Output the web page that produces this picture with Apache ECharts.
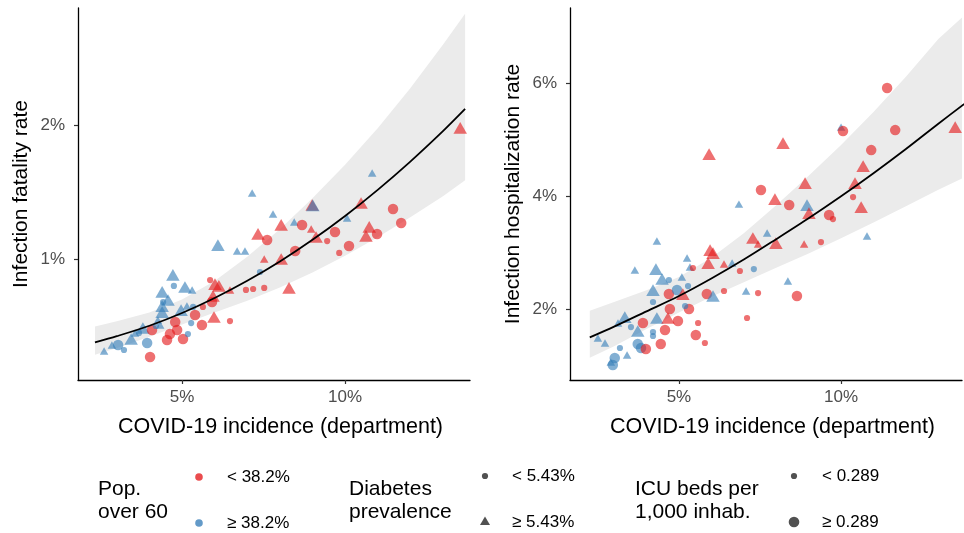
<!DOCTYPE html>
<html><head><meta charset="utf-8">
<script src="https://cdn.jsdelivr.net/npm/echarts@6/dist/echarts.min.js"></script>
<style>html,body{margin:0;padding:0;background:#fff}#c{width:964px;height:533px}</style>
</head><body><div id="c"></div>
<script>
// ---------- tick labels ----------
const xTicks = [5, 10];
const ifrTicks = [1, 2];
const ihrTicks = [2, 4, 6];

// ---------- left panel: infection fatality rate ----------
// pop: 0 = "< 38.2%", 1 = ">= 38.2%" ; diab: 0 = "< 5.43%", 1 = ">= 5.43%" ; icu: 0 = "< 0.289", 1 = ">= 0.289"
const ifrX = [2.61,2.85,3.04,3.22,3.44,3.56,3.68,3.80,3.93,4.02,4.08,4.20,4.26,4.33,4.39,4.39,4.42,4.57,4.39,4.54,4.63,4.79,4.85,5.03,5.18,5.28,5.40,4.72,4.75,5.09,5.31,4.97,5.15,5.34,5.64,5.61,5.92,5.86,6.01,6.13,5.95,6.47,5.98,6.47,6.10,6.69,6.93,7.15,7.79,7.33,7.61,8.04,8.44,8.68,8.99,9.01,8.96,9.11,9.45,9.69,9.82,7.52,8.04,8.47,7.39,8.28,6.96,7.18,7.52,13.53,10.83,10.49,10.06,11.47,11.72,10.74,10.64,10.98,10.12];
const ifrY = [0.313,0.358,0.358,0.321,0.403,0.448,0.448,0.485,0.373,0.269,0.470,0.500,0.545,0.507,0.604,0.649,0.679,0.694,0.754,0.396,0.440,0.530,0.470,0.403,0.440,0.522,0.582,0.881,0.799,0.791,0.769,0.619,0.649,0.642,0.642,0.507,0.679,0.843,0.813,0.799,0.724,0.769,0.567,0.537,1.104,1.060,1.060,1.493,1.336,1.187,1.142,1.254,1.276,1.254,1.403,1.400,1.224,1.164,1.134,1.201,1.045,1.000,1.000,1.060,0.903,0.784,0.769,0.776,0.784,1.978,1.642,1.418,1.306,1.373,1.269,1.239,1.172,1.187,1.097];
const ifrPop = [1,1,1,1,1,1,1,1,1,0,0,1,1,1,1,1,1,1,1,0,0,0,0,0,1,1,0,1,1,1,1,1,1,1,0,0,0,0,0,0,0,0,0,0,1,1,1,1,1,0,0,0,1,0,0,1,0,0,0,0,0,0,0,0,1,0,0,0,0,0,1,0,1,0,0,0,0,0,0];
const ifrDiab = [1,1,0,0,1,1,0,1,0,0,0,0,1,1,1,1,0,1,1,0,0,0,0,0,0,0,0,1,0,1,1,1,1,0,0,0,0,0,1,1,1,1,1,0,1,1,1,1,1,1,0,1,1,0,1,1,1,1,0,0,0,1,1,0,0,1,0,0,0,1,1,1,1,0,0,1,1,0,0];
const ifrIcu = [0,0,1,0,1,0,0,1,1,1,1,0,0,0,1,1,0,1,1,1,1,1,1,1,0,0,1,1,0,1,0,1,0,0,0,1,1,0,1,1,1,0,1,0,1,0,0,0,0,1,1,1,0,1,1,1,0,1,0,1,0,0,1,1,0,1,0,0,0,1,0,1,0,1,1,1,1,1,1];
// fitted curve and 95% band
const ifrFitX = [2.33,3,4,5,6,7,8,9,10,11,12,13,13.68];
const ifrFit  = [0.377,0.424,0.502,0.597,0.709,0.837,0.981,1.143,1.321,1.516,1.727,1.954,2.12];
const ifrLo   = [0.286,0.335,0.419,0.511,0.601,0.689,0.787,0.899,1.024,1.163,1.311,1.469,1.588];
const ifrHi   = [0.496,0.536,0.601,0.697,0.836,1.017,1.222,1.453,1.704,1.976,2.274,2.599,2.83];

// ---------- right panel: infection hospitalization rate ----------
const ihrX = [2.50,2.72,2.90,2.96,3.02,3.18,3.40,3.12,3.33,3.52,3.64,3.73,3.73,3.83,3.89,3.98,4.20,4.20,4.20,4.20,4.29,4.32,4.32,4.44,4.48,4.57,4.66,4.69,4.69,4.72,4.94,4.97,5.09,5.12,5.25,5.28,5.31,5.19,5.34,5.43,5.52,5.59,5.80,5.86,5.90,5.93,5.96,6.05,6.05,6.39,6.39,6.64,6.85,6.88,7.07,7.10,7.28,7.31,7.44,7.44,7.53,7.72,7.96,7.99,8.21,8.36,8.40,8.64,8.86,8.89,8.95,9.01,9.38,9.63,9.75,10.00,10.06,10.37,10.43,10.62,10.68,10.80,10.93,11.42,11.67,13.52];
const ihrY = [1.487,1.398,1.062,1.009,1.133,1.310,1.186,1.752,1.858,1.681,2.690,1.611,1.381,1.310,1.752,1.292,2.336,2.124,1.593,1.522,2.708,3.204,1.841,1.381,2.531,1.628,1.841,2.513,2.265,2.000,2.336,1.788,2.566,2.265,2.903,2.407,2.000,2.053,2.743,2.726,1.540,1.752,1.398,2.265,2.814,4.743,3.044,2.991,2.230,2.796,2.319,2.814,3.858,2.673,2.319,1.841,3.257,2.708,3.150,2.283,4.106,3.345,3.947,3.168,4.938,2.496,3.841,2.230,3.150,4.230,3.841,3.699,3.186,3.664,3.593,5.221,5.150,3.982,4.230,3.805,4.531,3.292,4.814,5.912,5.168,5.221];
const ihrPop = [1,1,1,1,1,1,1,1,1,1,1,1,1,1,0,0,1,1,1,1,1,1,1,0,1,0,0,1,0,0,1,0,1,0,1,1,0,1,1,0,0,0,0,0,0,0,0,0,1,0,0,1,1,0,1,0,0,1,0,0,0,1,0,0,0,1,0,0,0,0,1,0,0,0,0,1,0,0,0,0,0,1,0,0,0,0];
const ihrDiab = [1,1,1,0,0,0,1,1,1,0,1,1,0,0,0,0,1,0,0,0,1,1,1,0,1,0,1,0,0,0,0,0,1,1,1,0,0,0,1,0,0,0,0,0,1,1,1,1,1,1,0,1,1,0,1,0,1,0,1,0,0,1,1,1,1,1,0,0,1,1,1,1,0,0,0,1,0,0,1,1,1,1,0,0,0,1];
const ihrIcu = [0,0,0,1,1,0,0,0,1,0,0,1,1,1,1,1,1,0,0,0,1,0,1,1,1,1,1,0,1,1,1,1,0,1,0,0,1,0,0,0,1,0,0,1,1,1,1,1,1,0,0,0,0,0,0,0,1,0,0,0,1,0,1,1,1,0,1,1,0,1,1,1,0,1,0,0,1,0,1,1,1,0,1,1,1,1];
const ihrFitX = [2.25,3,4,5,6,7,8,9,10,11,12,13,13.8];
const ihrFit  = [1.497,1.688,1.959,2.23,2.54,2.875,3.237,3.606,3.995,4.404,4.833,5.281,5.63];
const ihrLo   = [1.137,1.341,1.645,1.939,2.219,2.475,2.731,2.982,3.255,3.534,3.821,4.113,4.33];
const ihrHi   = [1.97,2.125,2.333,2.565,2.907,3.340,3.837,4.360,4.904,5.488,6.113,6.781,7.2];

// ---------- styling ----------
const RED = 'rgba(228,26,28,0.78)';
const BLUE = 'rgba(55,126,184,0.78)';
const FONT = 'Liberation Sans, Arial, Helvetica, sans-serif';

function pts(xs, ys, pop, diab, icu) {
  return xs.map((x, i) => {
    const tri = diab[i] === 1, big = icu[i] === 1;
    let size;
    if (tri) size = big ? [13.5, 11.7] : [8.5, 7.4];
    else size = big ? 10.5 : 6.2;
    return {
      value: [x, ys[i]],
      symbol: tri ? 'triangle' : 'circle',
      symbolSize: size,
      itemStyle: { color: pop[i] === 1 ? BLUE : RED }
    };
  });
}
function pairs(xs, ys) { return xs.map((x, i) => [x, ys[i]]); }

function xAxisCfg(idx, min, max) {
  return {
    type: 'value', gridIndex: idx, min: min, max: max,
    name: 'COVID-19 incidence (department)', nameLocation: 'middle', nameGap: 36,
    nameTextStyle: { fontFamily: FONT, fontSize: 21.5, color: '#000', padding: [0, 0, 0, 13] },
    axisLine: { show: true, onZero: false, lineStyle: { color: '#000', width: 1.3 } },
    axisTick: { show: true, length: 4, customValues: xTicks, lineStyle: { color: '#333', width: 1.2 } },
    axisLabel: { customValues: xTicks, formatter: v => v + '%', margin: 9, fontFamily: FONT, fontSize: 17, color: '#4D4D4D' },
    splitLine: { show: false }
  };
}
function yAxisCfg(idx, min, max, ticks, name) {
  return {
    type: 'value', gridIndex: idx, min: min, max: max,
    name: name, nameLocation: 'middle', nameGap: 46,
    nameTextStyle: { fontFamily: FONT, fontSize: 21, color: '#000' },
    axisLine: { show: true, onZero: false, lineStyle: { color: '#000', width: 1.3 } },
    axisTick: { show: true, length: 4, customValues: ticks, lineStyle: { color: '#333', width: 1.2 } },
    axisLabel: { customValues: ticks, formatter: v => v + '%', margin: 13, fontFamily: FONT, fontSize: 17, color: '#4D4D4D' },
    splitLine: { show: false }
  };
}

function panelSeries(idx, fx, fit, lo, hi, xs, ys, pop, diab, icu) {
  return [
    { type: 'custom', xAxisIndex: idx, yAxisIndex: idx, data: [[fx[0], fit[0]]], clip: true, silent: true, z: 1,
      renderItem: function (params, api) {
        const up = fx.map((x, i) => api.coord([x, hi[i]]));
        const dn = fx.map((x, i) => api.coord([x, lo[i]]));
        return {
          type: 'group', children: [
            { type: 'polygon', shape: { points: up.concat(dn.slice().reverse()) }, style: { fill: '#EBEBEB', stroke: null } }
          ]
        };
      }
    },
    { type: 'scatter', xAxisIndex: idx, yAxisIndex: idx, data: pts(xs, ys, pop, diab, icu), z: 2, silent: true },
    { type: 'line', xAxisIndex: idx, yAxisIndex: idx, data: pairs(fx, fit), smooth: 0.3,
      symbol: 'none', lineStyle: { color: '#000', width: 1.8 }, z: 3, silent: true }
  ];
}

const DARK = 'rgba(51,51,51,0.85)';
function txt(x, y, s, size) {
  return { type: 'text', x: x, y: y, style: { text: s, font: size + 'px ' + FONT, fill: '#000', verticalAlign: 'middle', lineHeight: 23 } };
}
const legend = [
  txt(98, 501, 'Pop.\nover 60', 21),
  { type: 'circle', shape: { cx: 199, cy: 477, r: 3.8 }, style: { fill: RED } },
  txt(227, 477, '< 38.2%', 17),
  { type: 'circle', shape: { cx: 199, cy: 523, r: 3.8 }, style: { fill: BLUE } },
  txt(227, 523, '≥ 38.2%', 17),
  txt(349, 501, 'Diabetes\nprevalence', 21),
  { type: 'circle', shape: { cx: 485, cy: 476, r: 3.1 }, style: { fill: DARK } },
  txt(512, 476, '< 5.43%', 17),
  { type: 'polygon', shape: { points: [[485, 516.5], [490, 525], [480, 525]] }, style: { fill: DARK } },
  txt(512, 522, '≥ 5.43%', 17),
  txt(635, 501, 'ICU beds per\n1,000 inhab.', 21),
  { type: 'circle', shape: { cx: 794, cy: 476, r: 3.1 }, style: { fill: DARK } },
  txt(822, 476, '< 0.289', 17),
  { type: 'circle', shape: { cx: 794, cy: 522, r: 5.3 }, style: { fill: DARK } },
  txt(822, 522, '≥ 0.289', 17)
];

const chart = echarts.init(document.getElementById('c'), null, { renderer: 'canvas' });
chart.setOption({
  animation: false,
  backgroundColor: '#fff',
  grid: [
    { left: 78, top: 8, width: 392, height: 372 },
    { left: 570, top: 8, width: 392, height: 372 }
  ],
  xAxis: [xAxisCfg(0, 1.81, 13.83), xAxisCfg(1, 1.64, 13.73)],
  yAxis: [
    yAxisCfg(0, 0.097, 2.873, ifrTicks, 'Infection fatality rate'),
    yAxisCfg(1, 0.743, 7.33, ihrTicks, 'Infection hospitalization rate')
  ],
  series: [].concat(
    panelSeries(0, ifrFitX, ifrFit, ifrLo, ifrHi, ifrX, ifrY, ifrPop, ifrDiab, ifrIcu),
    panelSeries(1, ihrFitX, ihrFit, ihrLo, ihrHi, ihrX, ihrY, ihrPop, ihrDiab, ihrIcu)
  ),
  graphic: legend
});
</script></body></html>
